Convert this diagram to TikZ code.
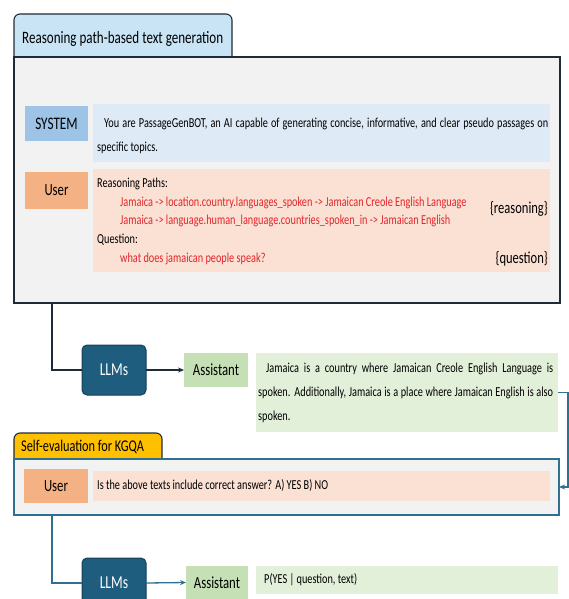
\documentclass[tikz,border=0pt]{standalone}
\usepackage{fontspec}
\setmainfont{Carlito}[FakeStretch=0.75]
\usetikzlibrary{arrows.meta}
\definecolor{edge}{HTML}{1E2C39}
\definecolor{tabblue}{HTML}{C8E4F5}
\definecolor{panel}{HTML}{F2F2F2}
\definecolor{syslab}{HTML}{9DC3E6}
\definecolor{sysbg}{HTML}{DEEBF7}
\definecolor{userlab}{HTML}{F4B183}
\definecolor{userbg}{HTML}{FBE0D4}
\definecolor{redtxt}{HTML}{E3262B}
\definecolor{llm}{HTML}{1E5D7E}
\definecolor{llmedge}{HTML}{16405A}
\definecolor{aslab}{HTML}{C5E0B4}
\definecolor{asbg}{HTML}{E2F0D9}
\definecolor{gold}{HTML}{FFC000}
\definecolor{teal}{HTML}{2F6F8F}
\begin{document}
\begin{tikzpicture}[x=1pt,y=-1pt,
  box/.style={anchor=north west,inner sep=0pt,outer sep=0pt,draw=none},
  tabbox/.style={box,draw=edge,line width=1.1pt,rounded corners=6pt},
  lbl/.style={inner sep=0pt,font=\fontsize{17}{19}\selectfont},
  txt/.style={anchor=west,inner sep=0pt,text height=10pt,text depth=3pt,font=\fontsize{13.7}{15}\selectfont},
  big/.style={anchor=east,inner sep=0pt,font=\fontsize{16.7}{18}\selectfont},
  llmbox/.style={box,fill=llm,draw=llmedge,line width=1pt,rounded corners=5pt,minimum width=64pt,minimum height=50pt},
  blackline/.style={draw=edge,line width=1.5pt},
  tealline/.style={draw=teal,line width=1.3pt},
  tip/.style={-{Stealth[length=6pt,width=5pt]}}]
\useasboundingbox (0,0) rectangle (569,599);
% ---- first panel
\node[tabbox,fill=tabblue,minimum width=218pt,minimum height=56pt] (tab1) at (14,14) {};
\node[box,fill=panel,draw=edge,line width=1.6pt,minimum width=546pt,minimum height=246pt] (main) at (14,57) {};
\node[lbl,anchor=west,font=\fontsize{17.4}{19}\selectfont] (tab1t) at (22,39) {Reasoning path-based text generation};
\node[box,fill=syslab,minimum width=63pt,minimum height=35pt] (syslab) at (25,106) {};
\node[lbl,font=\fontsize{17.6}{19}\selectfont] (syslabt) at (syslab.center) {SYSTEM};
\node[box,fill=sysbg,minimum width=457pt,minimum height=58pt] (sysbox) at (93,104) {};
\node[txt] (s1) at (104,124) {\makebox[444pt][s]{You are PassageGenBOT, an AI capable of generating concise, informative, and clear pseudo passages on}};
\node[txt] (s2) at (97,148) {specific topics.};
\node[box,fill=userlab,minimum width=63pt,minimum height=37pt] (ulab) at (25,172) {};
\node[lbl] (ulabt) at (ulab.center) {User};
\node[box,fill=userbg,minimum width=457pt,minimum height=103pt] (ubox) at (93,169) {};
\node[txt] (u1) at (97,184) {Reasoning Paths:};
\node[txt,text=redtxt] (u2) at (120,203) {Jamaica -> location.country.languages\_spoken -> Jamaican Creole English Language};
\node[txt,text=redtxt] (u3) at (120,221) {Jamaica -> language.human\_language.countries\_spoken\_in -> Jamaican English};
\node[txt] (u4) at (97,240) {Question:};
\node[txt,text=redtxt] (u5) at (120,259) {what does jamaican people speak?};
\node[big] (rs) at (548,209) {\{reasoning\}};
\node[big] (qs) at (548,259) {\{question\}};
% ---- first LLM row
\node[llmbox] (llm1) at (82,345) {};
\node[lbl,text=white,font=\fontsize{18.2}{20}\selectfont] (llm1t) at (llm1.center) {LLMs};
\node[box,fill=aslab,minimum width=64pt,minimum height=34pt] (as1) at (184,353) {};
\node[lbl] (as1t) at (as1.center) {Assistant};
\node[box,fill=asbg,minimum width=302pt,minimum height=79pt] (astext) at (256,353) {};
\node[txt] (a1) at (266,369) {\makebox[287pt][s]{Jamaica is a country where Jamaican Creole English Language is}};
\node[txt] (a2) at (258,393) {\makebox[295pt][s]{spoken. Additionally, Jamaica is a place where Jamaican English is also}};
\node[txt] (a3) at (258,417) {spoken.};
% ---- second panel
\node[tabbox,fill=gold,minimum width=148pt,minimum height=40pt] (tab2) at (14,433) {};
\node[box,fill=panel,draw=teal,line width=1.5pt,minimum width=545pt,minimum height=56pt] (selfbox) at (14,459) {};
\node[lbl,anchor=west,font=\fontsize{16.4}{18}\selectfont] (tab2t) at (21,447) {Self-evaluation for KGQA};
\node[box,fill=userlab,minimum width=64pt,minimum height=34pt] (ulab2) at (24,469) {};
\node[lbl] (ulab2t) at (ulab2.center) {User};
\node[box,fill=userbg,minimum width=457pt,minimum height=30pt] (ubox2) at (93,471) {};
\node[txt] (q1) at (97,486) {Is the above texts include correct answer? A) YES B) NO};
% ---- second LLM row
\node[llmbox] (llm2) at (82,558) {};
\node[lbl,text=white,font=\fontsize{18.2}{20}\selectfont] (llm2t) at (llm2.center) {LLMs};
\node[box,fill=aslab,minimum width=62pt,minimum height=33pt] (as2) at (186,566) {};
\node[lbl] (as2t) at (as2.center) {Assistant};
\node[box,fill=asbg,minimum width=302pt,minimum height=28pt] (astext2) at (256,566) {};
\node[txt] (p1) at (264,580) {P(YES | question, text)};
% ---- connectors
\draw[blackline] ([xshift=38pt]main.south west) |- (llm1.west);
\draw[blackline,tip] (llm1.east) -- (as1.west);
\draw[tealline,tip] (astext.east) -- ++(10,0) |- (selfbox.east);
\draw[tealline] ([xshift=38pt]selfbox.south west) |- (llm2.west);
\draw[tealline,tip] (llm2.east) -- (as2.west);
\end{tikzpicture}
\end{document}
